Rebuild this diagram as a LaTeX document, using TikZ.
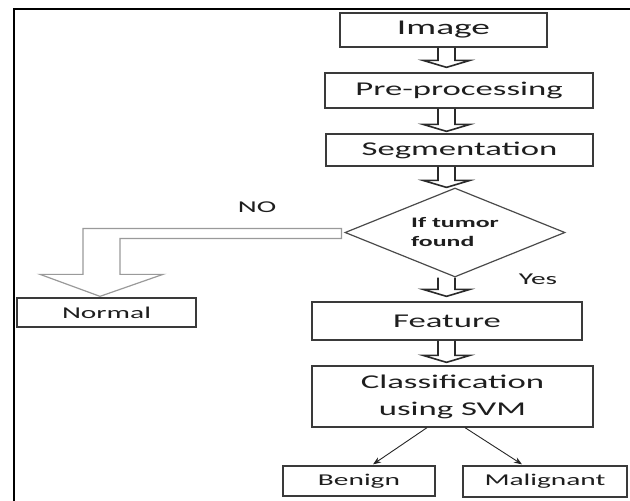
\documentclass[tikz,border=0pt]{standalone}
\usepackage{fontspec}
\setmainfont{Carlito}[FakeStretch=1.78]
\usetikzlibrary{shapes.geometric,calc,arrows.meta}
\definecolor{boxc}{HTML}{3A3A3A}
\definecolor{arrc}{HTML}{2A2A2A}
\definecolor{txtc}{HTML}{1E1E1E}
\definecolor{lgray}{HTML}{9A9A9A}
\definecolor{dgray}{HTML}{4A4A4A}
\tikzset{
  box/.style={draw=boxc, line width=1.3pt, rectangle, inner sep=0pt, text=txtc, align=center},
  bigtxt/.style={font=\fontsize{19.5}{27}\selectfont},
  smalltxt/.style={font=\fontsize{16.5}{20}\selectfont},
  lbl/.style={text=txtc, inner sep=0pt, font=\fontsize{16.5}{20}\selectfont},
  barrow/.style={draw=arrc, line width=1.6pt, line join=miter},
  harrow/.style={draw=lgray, line width=1.2pt, fill=white, line join=miter},
  thinarrow/.style={draw=black!85, line width=0.9pt, -{Stealth[length=8pt,width=6pt]}},
}
% block arrow: #1 source node, #2 target node, #3 gap above target
\newcommand{\blockarr}[3]{%
  \draw[barrow] let \p1=(#1.south), \p2=(#2.north) in
    (438pt,\y1) -- (438pt,{\y2+#3+7pt}) -- (423pt,{\y2+#3+7pt})
    -- (446.5pt,{\y2+#3}) -- (470pt,{\y2+#3+7pt}) -- (455pt,{\y2+#3+7pt})
    -- (455pt,\y1);}
\begin{document}
\begin{tikzpicture}[x=1pt,y=-1pt]
\useasboundingbox (0,0) rectangle (630,501);
% outer frame
\draw[black, line width=2.5pt] (14,501) -- (14,9) -- (630,9);

% nodes
\node[box, minimum width=207pt, minimum height=34pt, font=\fontsize{21}{25}\selectfont] (img) at (443.5,30) {Image};
\node[box, bigtxt, minimum width=268pt, minimum height=35pt] (pre) at (459,90.5) {Pre-processing};
\node[box, bigtxt, minimum width=267pt, minimum height=32pt] (seg) at (459.5,150) {Segmentation};
\node[diamond, aspect=2.5, draw=dgray, line width=1.2pt, minimum width=220pt, minimum height=89pt, inner sep=0pt,
      text=txtc, align=left, font=\bfseries\fontsize{14.5}{19}\selectfont] (dia) at (455,232.5) {If tumor\\found};
\node[box, bigtxt, minimum width=270pt, minimum height=38pt] (feat) at (447,321) {Feature};
\node[box, bigtxt, minimum width=281pt, minimum height=61pt] (cls) at (452.5,396.5) {Classification\\using SVM};
\node[box, smalltxt, minimum width=179pt, minimum height=29pt] (nor) at (106.5,312.5) {Normal};
\node[box, smalltxt, minimum width=152pt, minimum height=30pt] (ben) at (359,481) {Benign};
\node[box, smalltxt, minimum width=164pt, minimum height=31pt] (mal) at (545,481.5) {Malignant};

% labels
\node[lbl] (no) at (257,207) {NO};
\node[lbl] (yes) at (538,279) {Yes};

% block arrows
\blockarr{img}{pre}{5pt}
\blockarr{pre}{seg}{2pt}
\blockarr{seg}{dia}{0pt}
\blockarr{dia}{feat}{5pt}
\blockarr{feat}{cls}{3pt}

% hollow L-arrow to Normal
\draw[harrow] let \p1=(dia.west), \p2=(nor.north) in
  ({\x1-3pt},{\y1+4pt}) -- ({\x2-23.5pt},{\y1+4pt}) -- ({\x2-23.5pt},{\y2+23pt})
  -- ({\x2-66.5pt},{\y2+23pt}) -- ({\x2-6.5pt},{\y2+1pt}) -- ({\x2+56.5pt},{\y2+23pt})
  -- ({\x2+13.5pt},{\y2+23pt}) -- ({\x2+13.5pt},{\y1-6pt}) -- ({\x1-3pt},{\y1-6pt}) -- cycle;

% classification arrows
\draw[thinarrow] ($(cls.south)+(-25.5,0)$) -- ($(ben.north)+(14,-1)$);
\draw[thinarrow] ($(cls.south)+(12.5,0)$) -- ($(mal.north)+(-23,-1)$);
\end{tikzpicture}
\end{document}
